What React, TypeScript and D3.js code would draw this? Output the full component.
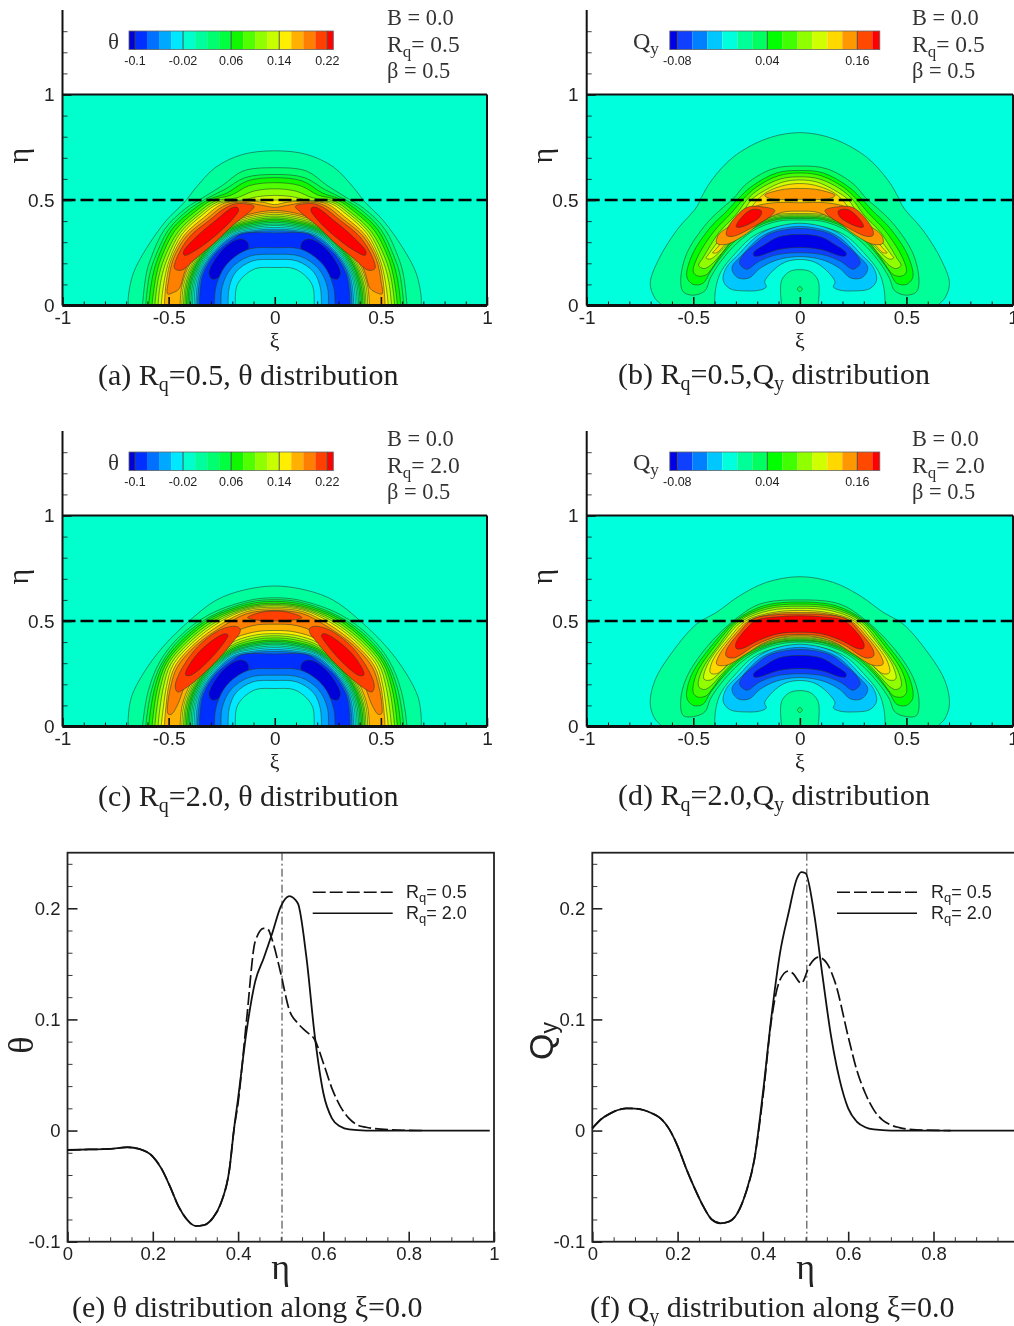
import React, { useEffect, useRef } from 'react';
import * as d3 from 'd3';

type Pt = [number, number];
type Layer = [number, 'dome' | 'arch' | 'lobe', Pt[]];

// --- legend levels ---
const thetaEdges = [-0.11, -0.1, -0.08, -0.06, -0.04, -0.02, 0, 0.02, 0.04, 0.06, 0.08, 0.1, 0.12, 0.14, 0.16, 0.18, 0.2, 0.22, 0.23];
const thetaColors = ['#0000d8', '#0030ff', '#0070ff', '#00a8ff', '#00e8ff', '#00ffcc', '#00ff9c', '#00ff70', '#00ff40', '#10f800', '#50ff00', '#90ff00', '#c8ff00', '#ffee00', '#ffb000', '#ff8000', '#ff4000', '#ff0000'];
const thetaLegendTicks = [-0.1, -0.02, 0.06, 0.14, 0.22];
const qyEdges = [-0.09, -0.08, -0.06, -0.04, -0.02, 0, 0.02, 0.04, 0.06, 0.08, 0.1, 0.12, 0.14, 0.16, 0.18, 0.19];
const qyColors = ['#0000e8', '#1040ff', '#0080ff', '#00c8ff', '#00ffdc', '#00ff98', '#00ff60', '#00ff00', '#40ff00', '#90ff00', '#d0ff00', '#ffd800', '#ff9800', '#ff4800', '#ff0000'];
const qyLegendTicks = [-0.08, 0.04, 0.16];

// --- theta contours, right half (xi, eta), mirrored when drawn ---
const thetaAOuter: Layer[] = [
  [6, 'dome', [[0, .733], [.15, .716], [.277, .656], [.37, .56], [.425, .49], [.51, .404], [.605, .27], [.667, .151], [.69, .04], [.69, 0]]],
  [7, 'dome', [[0, .653], [.15, .637], [.245, .57], [.34, .51], [.42, .46], [.52, .36], [.585, .22], [.605, .151], [.623, 0]]],
  [8, 'dome', [[0, .621], [.14, .606], [.235, .55], [.325, .505], [.405, .455], [.5, .36], [.565, .225], [.59, .145], [.608, 0]]],
  [9, 'dome', [[0, .606], [.13, .59], [.225, .533], [.31, .503], [.39, .45], [.485, .36], [.55, .225], [.575, .14], [.594, 0]]],
  [10, 'dome', [[0, .582], [.12, .568], [.205, .523], [.295, .5], [.375, .445], [.47, .355], [.535, .225], [.56, .135], [.578, 0]]],
  [11, 'dome', [[0, .553], [.1, .542], [.18, .51], [.28, .495], [.36, .44], [.455, .35], [.52, .225], [.548, .13], [.565, 0]]],
  [12, 'dome', [[0, .522], [.08, .516], [.15, .5], [.27, .49], [.35, .435], [.445, .345], [.505, .225], [.535, .125], [.55, 0]]],
  [13, 'dome', [[0, .5], [.07, .5], [.125, .495], [.26, .485], [.34, .43], [.435, .34], [.495, .22], [.52, .12], [.535, 0]]],
  [14, 'dome', [[0, .478], [.06, .49], [.17, .495], [.25, .48], [.33, .42], [.425, .335], [.487, .22], [.51, .12], [.52, 0]]],
];
const thetaCOuter: Layer[] = [
  [6, 'dome', [[0, .666], [.152, .645], [.277, .598], [.4, .503], [.527, .377], [.62, .25], [.675, .14], [.69, .046], [.69, 0]]],
  [7, 'dome', [[0, .61], [.12, .598], [.31, .53], [.45, .425], [.54, .31], [.595, .172], [.623, 0]]],
  [8, 'dome', [[0, .601], [.122, .589], [.305, .52], [.44, .42], [.53, .305], [.58, .174], [.608, 0]]],
  [9, 'dome', [[0, .593], [.123, .58], [.3, .515], [.43, .415], [.52, .305], [.567, .176], [.594, 0]]],
  [10, 'dome', [[0, .584], [.125, .571], [.29, .51], [.42, .41], [.51, .302], [.553, .178], [.578, 0]]],
  [11, 'dome', [[0, .578], [.126, .565], [.28, .505], [.41, .405], [.5, .3], [.54, .18], [.565, 0]]],
  [12, 'dome', [[0, .572], [.127, .559], [.27, .5], [.4, .4], [.49, .295], [.525, .185], [.55, 0]]],
  [13, 'dome', [[0, .565], [.129, .553], [.26, .495], [.39, .395], [.48, .29], [.51, .19], [.525, .09], [.535, 0]]],
  [14, 'dome', [[0, .558], [.13, .545], [.25, .487], [.38, .39], [.47, .285], [.5, .19], [.512, .1], [.52, 0]]],
];

const thetaInnerLevels = [13, 12, 11, 10, 9, 8, 7, 6, 5, 4, 3, 2];
const thetaInnerSides: Pt[][] = [
  [[.326, .295], [.397, .202], [.436, .099], [.446, 0]],
  [[.322, .291], [.391, .198], [.429, .098], [.438, 0]],
  [[.318, .286], [.386, .194], [.421, .097], [.43, 0]],
  [[.314, .282], [.381, .19], [.415, .096], [.423, 0]],
  [[.31, .279], [.376, .187], [.408, .095], [.416, 0]],
  [[.307, .275], [.372, .183], [.401, .094], [.409, 0]],
  [[.304, .271], [.367, .179], [.395, .094], [.402, 0]],
  [[.3, .267], [.362, .176], [.388, .093], [.395, 0]],
  [[.296, .263], [.357, .172], [.381, .092], [.388, 0]],
  [[.292, .259], [.352, .168], [.374, .091], [.38, 0]],
  [[.288, .254], [.347, .164], [.366, .09], [.372, 0]],
  [[.284, .25], [.341, .16], [.358, .089], [.364, 0]],
];
const thetaInnerTopsA: Pt[][] = [
  [[0, .44], [.1, .428], [.217, .388]],
  [[0, .432], [.1, .42], [.215, .382]],
  [[0, .424], [.1, .412], [.212, .376]],
  [[0, .416], [.1, .404], [.21, .371]],
  [[0, .409], [.1, .397], [.208, .366]],
  [[0, .401], [.1, .39], [.206, .36]],
  [[0, .394], [.1, .383], [.204, .355]],
  [[0, .386], [.1, .376], [.202, .35]],
  [[0, .379], [.1, .369], [.2, .345]],
  [[0, .37], [.1, .362], [.198, .339]],
  [[0, .362], [.1, .355], [.195, .333]],
  [[0, .354], [.1, .349], [.193, .327]],
];
const thetaInnerTopsC: Pt[][] = [
  [[0, .455], [.1, .447], [.215, .405]],
  [[0, .44], [.1, .432], [.21, .393]],
  [[0, .43], [.1, .42], [.207, .383]],
  [[0, .42], [.1, .41], [.205, .375]],
  [[0, .41], [.1, .4], [.203, .368]],
  [[0, .403], [.1, .393], [.201, .362]],
  [[0, .396], [.1, .386], [.2, .356]],
  [[0, .39], [.1, .38], [.199, .352]],
  [[0, .382], [.1, .372], [.198, .347]],
  [[0, .374], [.1, .365], [.197, .342]],
  [[0, .365], [.1, .357], [.195, .335]],
  [[0, .355], [.1, .35], [.193, .328]],
];
const thetaCore: Layer[] = [
  [1, 'dome', [[0, .344], [.152, .341], [.19, .32], [.28, .245], [.335, .155], [.35, .088], [.355, 0]]],
  [0, 'lobe', [[.128, .3], [.16, .315], [.21, .295], [.27, .235], [.31, .155], [.295, .125], [.25, .14], [.18, .2], [.125, .265]]],
  [2, 'dome', [[0, .274], [.128, .265], [.23, .191], [.277, .088], [.284, 0]]],
  [3, 'dome', [[0, .243], [.12, .233], [.206, .175], [.248, .088], [.253, 0]]],
  [4, 'dome', [[0, .218], [.105, .211], [.183, .159], [.214, .088], [.22, 0]]],
  [5, 'dome', [[0, .18], [.09, .175], [.15, .135], [.18, .088], [.186, 0]]],
];
const thetaAHot: Layer[] = [
  [15, 'arch', [[0, .465], [.06, .475], [.17, .49], [.24, .472], [.32, .41], [.415, .33], [.478, .22], [.5, .12], [.505, .055], [.481, .06], [.45, .08], [.427, .151], [.403, .207], [.33, .3], [.22, .395], [.1, .437], [0, .45]]],
  [16, 'lobe', [[.097, .47], [.175, .483], [.23, .464], [.308, .404], [.402, .325], [.464, .22], [.472, .175], [.441, .167], [.372, .223], [.277, .303], [.198, .38], [.12, .443]]],
  [17, 'lobe', [[.175, .464], [.198, .464], [.277, .404], [.37, .325], [.43, .254], [.426, .238], [.372, .262], [.277, .333], [.198, .41], [.17, .451]]],
];
const thetaCHot: Layer[] = [
  [15, 'arch', [[0, .55], [.13, .535], [.24, .478], [.37, .385], [.46, .28], [.49, .19], [.505, .1], [.503, .06], [.487, .058], [.455, .109], [.425, .188], [.355, .298], [.198, .44], [.105, .478], [0, .485]]],
  [16, 'arch', [[0, .547], [.07, .54], [.128, .516], [.09, .505], [0, .5]]],
  [16, 'lobe', [[.164, .464], [.184, .475], [.255, .459], [.364, .377], [.45, .251], [.469, .188], [.458, .164], [.411, .188], [.286, .298], [.192, .408], [.164, .446]]],
  [17, 'lobe', [[.22, .432], [.231, .44], [.27, .424], [.364, .345], [.419, .259], [.419, .243], [.395, .243], [.317, .306], [.231, .409]]],
];

// --- Qy contours ---
const qyBOuter: Layer[] = [
  [5, 'dome', [[0, .819], [.157, .79], [.313, .703], [.414, .593], [.461, .514], [.484, .467], [.578, .356], [.664, .215], [.702, .104], [.679, .033], [.648, 0]]],
];
const qyDOuter: Layer[] = [
  [5, 'dome', [[0, .71], [.157, .683], [.282, .62], [.391, .541], [.484, .486], [.593, .36], [.68, .218], [.702, .107], [.68, .036], [.648, 0]]],
];
const qyBasin: Layer[] = [
  [4, 'dome', [[0, .385], [.2, .34], [.3, .25], [.37, .16], [.395, .08], [.4, 0]]],
];
const qyBHot: Layer[] = [
  [6, 'arch', [[0, .661], [.126, .648], [.25, .577], [.313, .506], [.36, .465], [.438, .388], [.531, .246], [.559, .12], [.547, .065], [.5, .049], [.445, .07], [.42, .13], [.37, .21], [.29, .3], [.2, .365], [.1, .4], [0, .405]]],
  [7, 'arch', [[0, .64], [.11, .628], [.225, .565], [.29, .505], [.34, .45], [.42, .37], [.505, .24], [.53, .135], [.5, .1], [.455, .105], [.42, .16], [.37, .23], [.3, .31], [.2, .375], [.1, .408], [0, .412]]],
  [8, 'arch', [[0, .628], [.1, .615], [.205, .56], [.265, .505], [.32, .44], [.4, .355], [.48, .23], [.5, .16], [.48, .14], [.44, .145], [.41, .18], [.37, .24], [.3, .32], [.2, .383], [.1, .414], [0, .418]]],
  [9, 'arch', [[0, .61], [.09, .6], [.185, .555], [.245, .505], [.3, .43], [.38, .345], [.455, .225], [.475, .19], [.45, .175], [.42, .19], [.365, .25], [.3, .33], [.2, .39], [.1, .42], [0, .424]]],
  [10, 'arch', [[0, .595], [.08, .585], [.165, .545], [.225, .503], [.28, .425], [.36, .335], [.43, .24], [.44, .225], [.42, .22], [.36, .27], [.29, .345], [.2, .4], [.1, .426], [0, .43]]],
  [11, 'arch', [[0, .578], [.07, .57], [.15, .54], [.2, .5], [.26, .42], [.34, .33], [.4, .26], [.41, .25], [.39, .25], [.35, .29], [.28, .355], [.2, .41], [.1, .432], [0, .436]]],
  [12, 'arch', [[0, .555], [.09, .548], [.165, .522], [.14, .507], [0, .503]]],
  [12, 'arch', [[0, .487], [.12, .487], [.22, .465], [.313, .388], [.383, .333], [.39, .295], [.344, .29], [.25, .34], [.173, .4], [.08, .442], [0, .447]]],
  [13, 'lobe', [[.118, .451], [.173, .467], [.25, .464], [.336, .372], [.344, .333], [.313, .328], [.22, .372], [.134, .427]]],
  [14, 'lobe', [[.18, .448], [.227, .454], [.29, .396], [.298, .372], [.266, .375], [.188, .42]]],
];
const qyDHot: Layer[] = [
  [6, 'arch', [[0, .6], [.188, .58], [.313, .5], [.438, .375], [.531, .233], [.559, .123], [.547, .052], [.5, .047], [.445, .07], [.42, .13], [.365, .21], [.28, .3], [.2, .355], [.1, .39], [0, .4]]],
  [7, 'arch', [[0, .59], [.17, .572], [.305, .5], [.42, .375], [.51, .24], [.53, .135], [.5, .1], [.455, .105], [.42, .16], [.365, .23], [.285, .31], [.2, .362], [.1, .398], [0, .405]]],
  [8, 'arch', [[0, .58], [.16, .565], [.295, .5], [.4, .38], [.485, .25], [.5, .16], [.48, .14], [.44, .145], [.41, .18], [.365, .24], [.29, .315], [.2, .37], [.1, .402], [0, .41]]],
  [9, 'arch', [[0, .57], [.15, .558], [.285, .5], [.38, .385], [.46, .265], [.475, .19], [.45, .175], [.42, .19], [.365, .25], [.29, .325], [.2, .375], [.1, .408], [0, .415]]],
  [10, 'arch', [[0, .56], [.14, .55], [.27, .5], [.36, .4], [.435, .29], [.45, .225], [.42, .22], [.36, .27], [.29, .335], [.2, .38], [.1, .412], [0, .42]]],
  [11, 'arch', [[0, .55], [.13, .54], [.255, .5], [.33, .42], [.41, .31], [.42, .255], [.39, .25], [.3, .33], [.2, .385], [.1, .418], [0, .424]]],
  [12, 'arch', [[0, .54], [.12, .535], [.24, .5], [.31, .43], [.38, .335], [.39, .295], [.345, .29], [.25, .345], [.17, .395], [.08, .424], [0, .43]]],
  [13, 'arch', [[0, .533], [.11, .53], [.22, .51], [.28, .45], [.345, .36], [.345, .333], [.31, .325], [.2, .39], [.1, .428], [0, .436]]],
  [14, 'arch', [[0, .525], [.1, .52], [.2, .505], [.245, .47], [.3, .395], [.298, .37], [.27, .37], [.19, .41], [.1, .44], [0, .447]]],
];
const qyCold: Layer[] = [
  [3, 'arch', [[0, .39], [.12, .37], [.2, .33], [.29, .24], [.345, .18], [.36, .12], [.329, .08], [.251, .069], [.188, .073], [.157, .088], [.165, .112], [.126, .165], [.07, .205], [0, .218]]],
  [2, 'arch', [[0, .375], [.12, .355], [.19, .32], [.27, .24], [.318, .183], [.31, .15], [.282, .128], [.235, .132], [.188, .175], [.11, .215], [0, .232]]],
  [1, 'arch', [[0, .365], [.14, .34], [.21, .29], [.27, .235], [.283, .2], [.25, .172], [.19, .21], [.11, .24], [0, .25]]],
  [0, 'arch', [[0, .337], [.1, .325], [.17, .285], [.217, .25], [.215, .235], [.19, .235], [.1, .265], [0, .275]]],
  [5, 'dome', [[0, .17], [.05, .16], [.085, .12], [.09, .05], [.085, 0]]],
  [6, 'arch', [[0, .09], [.012, .078], [0, .066]]],
];

// --- line profiles, eta vs value ---
const etaCommonE = [0, .05, .1, .14, .17, .2, .22, .24, .26, .28, .3, .32, .34, .36, .38, .39];
const thetaCommon = [-.0175, -.017, -.0165, -.015, -.0168, -.0234, -.034, -.05, -.068, -.08, -.0858, -.085, -.079, -.065, -.034, 0];
const etaThetaSolid = [.4, .42, .44, .46, .48, .5, .52, .54, .56, .58, .6, .62, .64, .66, .7, .99];
const thetaSolid = [.029, .09, .134, .155, .1775, .2015, .211, .2045, .1565, .0845, .0336, .011, .0036, .001, 0, 0];
const etaThetaDash = [.4, .42, .44, .46, .47, .48, .5, .52, .54, .56, .58, .6, .62, .64, .66, .68, .7, .72, .76, .8, .84];
const thetaDash = [.025, .1, .17, .182, .181, .1715, .1415, .1085, .0965, .089, .0815, .0606, .038, .0216, .011, .005, .003, .0018, .0006, .0002, 0];

const etaCommonF = [0, .02, .04, .06, .08, .1, .12, .14, .16, .18, .2, .22, .24, .26, .28, .3, .32, .34, .36, .38];
const qyCommon = [.002, .01, .015, .0185, .02, .0198, .0185, .0155, .011, .0015, -.014, -.034, -.052, -.068, -.08, -.0834, -.082, -.0745, -.056, -.026];
const etaQySolid = [.4, .42, .44, .46, .48, .49, .5, .52, .54, .56, .58, .6, .62, .64, .66, .7, 1];
const qySolid = [.0336, .1026, .1595, .1955, .227, .2325, .2315, .1955, .1385, .0845, .0456, .02, .0081, .003, .001, 0, 0];
const etaQyDash = [.4, .42, .44, .46, .47, .49, .51, .53, .55, .57, .6, .62, .64, .66, .68, .7, .72, .76, .84];
const qyDash = [.03, .0995, .1355, .1436, .1415, .1325, .149, .156, .1505, .1325, .0845, .0546, .0336, .0186, .0096, .005, .0027, .0006, 0];
const refEta = 0.503;

const xiMajor = [-1, -0.5, 0, 0.5, 1];
const xiMinor = [-.9, -.8, -.7, -.6, -.4, -.3, -.2, -.1, .1, .2, .3, .4, .6, .7, .8, .9];
const etaMajor = [0, 0.5, 1];
const etaMinor = [.1, .2, .3, .4, .6, .7, .8, .9, 1.1, 1.2, 1.3];
const lineXMajor = [0, .2, .4, .6, .8, 1];
const lineXMinor = [.05, .1, .15, .25, .3, .35, .45, .5, .55, .65, .7, .75, .85, .9, .95];
const lineYMajor = [-.1, 0, .1, .2];
const lineYMinor = [-.08, -.06, -.04, -.02, .02, .04, .06, .08, .12, .14, .16, .18, .22, .24];

const SERIF = "'Liberation Serif', serif";
const SANS = "'Liberation Sans', Arial, sans-serif";

const thetaLayers = (outer: Layer[], tops: Pt[][], hot: Layer[]): Layer[] => [
  ...outer,
  ...thetaInnerLevels.map((lv, i): Layer => [lv, 'dome', [...tops[i], ...thetaInnerSides[i]]]),
  ...hot,
  ...thetaCore,
];

const subText = (g: any, x: number, y: number, base: string, sub: string, rest: string, size: number, family: string, fill = '#222') => {
  const t = g.append('text').attr('x', x).attr('y', y)
    .attr('font-family', family).attr('font-size', size).attr('fill', fill);
  t.append('tspan').text(base);
  t.append('tspan').attr('font-size', size * 0.72).attr('dy', size * 0.22).text(sub);
  if (rest) t.append('tspan').attr('dy', -size * 0.22).text(rest);
  return t;
};

const drawContourPanel = (svg: any, cfg: any) => {
  const { id, x0, x1, y1, y0, layers, colors, edges, legendTicks, legend, bgLevel, rq, notes } = cfg;
  const x = d3.scaleLinear().domain([-1, 1]).range([x0, x1]);
  const y = d3.scaleLinear().domain([0, 1]).range([y0, y1]);
  const g = svg.append('g');

  svg.append('clipPath').attr('id', id).append('rect')
    .attr('x', x0).attr('y', y1).attr('width', x1 - x0).attr('height', y0 - y1);
  const plot = g.append('g').attr('clip-path', `url(#${id})`);
  plot.append('rect').attr('x', x0).attr('y', y1).attr('width', x1 - x0).attr('height', y0 - y1)
    .attr('fill', colors[bgLevel]);

  const ring = d3.line<Pt>().x(d => x(d[0])).y(d => y(d[1])).curve(d3.curveCatmullRomClosed.alpha(0.5));
  const paint = (pts: Pt[], level: number) => {
    plot.append('path').attr('d', ring(pts)).attr('fill', colors[level])
      .attr('stroke', '#24402f').attr('stroke-width', 0.7).attr('stroke-opacity', 0.8);
  };
  layers.forEach(([level, kind, pts]: Layer) => {
    if (kind === 'lobe') {
      paint(pts, level);
      paint(pts.map(p => [-p[0], p[1]] as Pt), level);
      return;
    }
    const right: Pt[] = kind === 'dome' ? [...pts, [pts[pts.length - 1][0], -0.03]] : pts;
    const left = right.filter(p => p[0] !== 0).map(p => [-p[0], p[1]] as Pt).reverse();
    paint([...right, ...left], level);
  });

  // eta = 0.5 cut
  g.append('line').attr('x1', x(-1)).attr('x2', x(1)).attr('y1', y(0.5)).attr('y2', y(0.5))
    .attr('stroke', '#000').attr('stroke-width', 2.4).attr('stroke-dasharray', '13 5');

  // frame
  g.append('line').attr('x1', x0).attr('x2', x1).attr('y1', y1).attr('y2', y1).attr('stroke', '#111').attr('stroke-width', 1.8);
  g.append('line').attr('x1', x1).attr('x2', x1).attr('y1', y1).attr('y2', y0).attr('stroke', '#111').attr('stroke-width', 2);

  const axisStyle = (sel: any, size: number) => {
    sel.select('.domain').remove();
    sel.selectAll('line').attr('stroke', '#111').attr('stroke-width', size);
    sel.selectAll('text').attr('font-family', SANS).attr('font-size', 19).attr('fill', '#222');
  };
  g.append('g').attr('transform', `translate(0,${y0})`)
    .call(d3.axisBottom(x).tickValues(xiMinor).tickSizeInner(-4).tickFormat(() => ''))
    .call(axisStyle, 1);
  g.append('g').attr('transform', `translate(0,${y0})`)
    .call(d3.axisBottom(x).tickValues(xiMajor).tickSizeInner(-8.5).tickPadding(5).tickFormat(d => String(d)))
    .call(axisStyle, 1.6);
  g.append('g').attr('transform', `translate(${x0},0)`)
    .call(d3.axisLeft(y).tickValues(etaMinor).tickSizeInner(-5).tickFormat(() => ''))
    .call(axisStyle, 0.8);
  g.append('g').attr('transform', `translate(${x0},0)`)
    .call(d3.axisLeft(y).tickValues(etaMajor).tickSizeInner(-9).tickPadding(8).tickFormat(d => String(d)))
    .call(axisStyle, 1.6);
  g.append('line').attr('x1', x0).attr('x2', x1).attr('y1', y0).attr('y2', y0).attr('stroke', '#111').attr('stroke-width', 3);
  g.append('line').attr('x1', x0).attr('x2', x0).attr('y1', y(1.4)).attr('y2', y0).attr('stroke', '#111').attr('stroke-width', 2);

  // axis names
  g.append('text').attr('transform', `translate(${x0 - 34.5},${y(0.71)}) rotate(-90)`).attr('text-anchor', 'middle')
    .attr('font-family', SERIF).attr('font-size', 30).attr('fill', '#222').text('η');
  g.append('text').attr('x', x(0)).attr('y', y0 + 42).attr('text-anchor', 'middle')
    .attr('font-family', SERIF).attr('font-size', 22).attr('fill', '#222').text('ξ');

  // contour legend
  const lx = d3.scaleLinear().domain(legend.domain).range(legend.range);
  const ly = y1 - 63.5;
  const lh = 18.6;
  const lg = g.append('g');
  lg.selectAll('rect').data(colors).join('rect')
    .attr('x', (_d: string, i: number) => lx(edges[i])).attr('y', ly)
    .attr('width', (_d: string, i: number) => lx(edges[i + 1]) - lx(edges[i])).attr('height', lh)
    .attr('fill', (d: string) => d);
  lg.append('rect').attr('x', lx(edges[0])).attr('y', ly).attr('width', lx(edges[edges.length - 1]) - lx(edges[0])).attr('height', lh)
    .attr('fill', 'none').attr('stroke', '#666').attr('stroke-width', 0.8);
  legendTicks.forEach((v: number) => {
    lg.append('line').attr('x1', lx(v)).attr('x2', lx(v)).attr('y1', ly).attr('y2', ly + lh).attr('stroke', '#444').attr('stroke-width', 0.9);
    lg.append('text').attr('x', lx(v)).attr('y', ly + lh + 15).attr('text-anchor', 'middle')
      .attr('font-family', SANS).attr('font-size', 12.5).attr('fill', '#222').text(String(v));
  });
  if (legend.sub) subText(g, legend.labelX, ly + 18, legend.label, legend.sub, '', 24, SERIF, '#333');
  else g.append('text').attr('x', legend.labelX).attr('y', ly + 18).attr('font-family', SERIF).attr('font-size', 23).attr('fill', '#333').text(legend.label);

  // annotation block
  const ax = notes.x;
  g.append('text').attr('x', ax).attr('y', y1 - 70).attr('font-family', SERIF).attr('font-size', 22.4).attr('fill', '#333').text('B = 0.0');
  subText(g, ax, y1 - 43, 'R', 'q', `= ${rq}`, 23.5, SERIF, '#333');
  g.append('text').attr('x', ax).attr('y', y1 - 17).attr('font-family', SERIF).attr('font-size', 22.4).attr('fill', '#333').text('β = 0.5');
};

const drawLinePanel = (svg: any, cfg: any) => {
  const { x0, common, solid, dash, label, labelY, yLabel, legendX, legendTextX } = cfg;
  const x = d3.scaleLinear().domain([0, 1]).range([x0, x0 + 426.5]);
  const y = d3.scaleLinear().domain([-0.1, 0.25]).range([1241.7, 852.7]);
  const g = svg.append('g');
  const path = d3.line<number[]>().x(d => x(d[0])).y(d => y(d[1])).curve(d3.curveMonotoneX);
  const zipped = (e: number[], v: number[]) => e.map((d, i) => [d, v[i]]);

  const styleAxis = (sel: any, w: number) => {
    sel.select('.domain').remove();
    sel.selectAll('line').attr('stroke', '#222').attr('stroke-width', w);
    sel.selectAll('text').attr('font-family', SANS).attr('font-size', 18.5).attr('fill', '#222');
  };
  g.append('g').attr('transform', 'translate(0,1241.7)')
    .call(d3.axisBottom(x).tickValues(lineXMinor).tickSizeInner(-4.5).tickFormat(() => '')).call(styleAxis, 0.9);
  g.append('g').attr('transform', 'translate(0,1241.7)')
    .call(d3.axisBottom(x).tickValues(lineXMajor).tickSizeInner(-10).tickPadding(5).tickFormat(d => String(d))).call(styleAxis, 1.6);
  g.append('g').attr('transform', `translate(${x0},0)`)
    .call(d3.axisLeft(y).tickValues(lineYMinor).tickSizeInner(-5).tickFormat(() => '')).call(styleAxis, 0.9);
  g.append('g').attr('transform', `translate(${x0},0)`)
    .call(d3.axisLeft(y).tickValues(lineYMajor).tickSizeInner(-10).tickPadding(7).tickFormat(d => String(d))).call(styleAxis, 1.6);
  g.append('rect').attr('x', x(0)).attr('y', y(0.25)).attr('width', x(1) - x(0)).attr('height', y(-0.1) - y(0.25))
    .attr('fill', 'none').attr('stroke', '#222').attr('stroke-width', 1.8);

  g.append('line').attr('x1', x(refEta)).attr('x2', x(refEta)).attr('y1', y(0.25)).attr('y2', y(-0.1))
    .attr('stroke', '#333').attr('stroke-width', 1).attr('stroke-dasharray', '8 3 2 3');

  const all = zipped(common[0], common[1]);
  g.append('path').attr('d', path([...all, ...zipped(dash[0], dash[1])])).attr('fill', 'none')
    .attr('stroke', '#111').attr('stroke-width', 1.7).attr('stroke-dasharray', '13 4');
  g.append('path').attr('d', path([...all, ...zipped(solid[0], solid[1])])).attr('fill', 'none')
    .attr('stroke', '#111').attr('stroke-width', 1.8);

  // legend
  [['13 4', 892.3, '0.5'], [null, 913.3, '2.0']].forEach(([d, ypos, val]: any) => {
    g.append('line').attr('x1', legendX).attr('x2', legendX + 80).attr('y1', ypos).attr('y2', ypos)
      .attr('stroke', '#111').attr('stroke-width', 1.5).attr('stroke-dasharray', d);
    subText(g, legendTextX, ypos + 5.5, 'R', 'q', `= ${val}`, 18, SANS);
  });

  // axis names
  g.append('text').attr('x', x(0.5)).attr('y', 1279).attr('text-anchor', 'middle')
    .attr('font-family', SERIF).attr('font-size', 36).attr('fill', '#222').text('η');
  if (yLabel) {
    const yl = g.append('text').attr('transform', `translate(${x0 - 39.3},${labelY}) rotate(-90)`)
      .attr('font-family', SANS).attr('font-size', 34).attr('fill', '#222');
    yl.append('tspan').text(label);
    yl.append('tspan').attr('font-size', 23).attr('dy', 4).text(yLabel);
  } else {
    g.append('text').attr('transform', `translate(${x0 - 35},${labelY}) rotate(-90)`).attr('text-anchor', 'middle')
      .attr('font-family', SERIF).attr('font-size', 36).attr('fill', '#222').text(label);
  }
};

const caption = (svg: any, x: number, y: number, parts: [string, boolean][]) => {
  const t = svg.append('text').attr('x', x).attr('y', y).attr('font-family', SERIF).attr('font-size', 30).attr('fill', '#222');
  let low = false;
  parts.forEach(([s, sub]) => {
    const span = t.append('tspan').text(s);
    if (sub) span.attr('font-size', 20).attr('dy', 6);
    else if (low) span.attr('dy', -6);
    low = sub;
  });
};

const App = () => {
  const svgRef = useRef<SVGSVGElement>(null);

  useEffect(() => {
    const base = d3.select(svgRef.current);
    base.selectAll('*').remove();
    // the source is a slightly soft scan
    base.append('filter').attr('id', 'soft').attr('x', 0).attr('y', 0).attr('width', '100%').attr('height', '100%')
      .attr('color-interpolation-filters', 'sRGB')
      .append('feGaussianBlur').attr('stdDeviation', 0.5);
    const svg = base.append('g').attr('filter', 'url(#soft)');
    svg.append('rect').attr('width', 1014).attr('height', 1326).attr('fill', '#fff');

    const thetaLegend = { domain: [-0.1, 0.22], range: [135, 327.3], label: 'θ', labelX: 108 };
    const qyLegend = { domain: [-0.08, 0.16], range: [677.3, 857.3], label: 'Q', sub: 'y', labelX: 633 };
    const qyLayers = (outer: Layer[], hot: Layer[]) => [...outer, ...qyBasin, ...hot, ...qyCold];

    const left = { x0: 62.5, x1: 487 };
    const right = { x0: 586.7, x1: 1013 };
    const thetaBase = { colors: thetaColors, edges: thetaEdges, legendTicks: thetaLegendTicks, legend: thetaLegend, bgLevel: 5, notes: { x: 387 } };
    const qyBase = { colors: qyColors, edges: qyEdges, legendTicks: qyLegendTicks, legend: qyLegend, bgLevel: 4, notes: { x: 912 } };

    drawContourPanel(svg, { id: 'pa', ...left, y1: 94.5, y0: 305.5, rq: '0.5', ...thetaBase, layers: thetaLayers(thetaAOuter, thetaInnerTopsA, thetaAHot) });
    drawContourPanel(svg, { id: 'pb', ...right, y1: 94.5, y0: 305.5, rq: '0.5', ...qyBase, layers: qyLayers(qyBOuter, qyBHot) });
    drawContourPanel(svg, { id: 'pc', ...left, y1: 515.5, y0: 726.5, rq: '2.0', ...thetaBase, layers: thetaLayers(thetaCOuter, thetaInnerTopsC, thetaCHot) });
    drawContourPanel(svg, { id: 'pd', ...right, y1: 515.5, y0: 726.5, rq: '2.0', ...qyBase, layers: qyLayers(qyDOuter, qyDHot) });

    drawLinePanel(svg, { x0: 67.5, common: [etaCommonE, thetaCommon], solid: [etaThetaSolid, thetaSolid], dash: [etaThetaDash, thetaDash], label: 'θ', labelY: 1045, legendX: 312.7, legendTextX: 406 });
    drawLinePanel(svg, { x0: 592.3, common: [etaCommonF, qyCommon], solid: [etaQySolid, qySolid], dash: [etaQyDash, qyDash], label: 'Q', yLabel: 'y', labelY: 1060, legendX: 837, legendTextX: 931 });

    caption(svg, 98, 385, [['(a) R', false], ['q', true], ['=0.5, θ distribution', false]]);
    caption(svg, 618, 384, [['(b) R', false], ['q', true], ['=0.5,Q', false], ['y', true], [' distribution', false]]);
    caption(svg, 98, 806, [['(c) R', false], ['q', true], ['=2.0, θ distribution', false]]);
    caption(svg, 618, 805, [['(d) R', false], ['q', true], ['=2.0,Q', false], ['y', true], [' distribution', false]]);
    caption(svg, 72, 1317, [['(e) θ distribution along ξ=0.0', false]]);
    caption(svg, 590, 1317, [['(f) Q', false], ['y', true], [' distribution along ξ=0.0', false]]);
  }, []);

  return (
    <svg ref={svgRef} width={1014} height={1326} viewBox="0 0 1014 1326"
      style={{ position: 'absolute', left: 0, top: 0 }} />
  );
};

export default App;
